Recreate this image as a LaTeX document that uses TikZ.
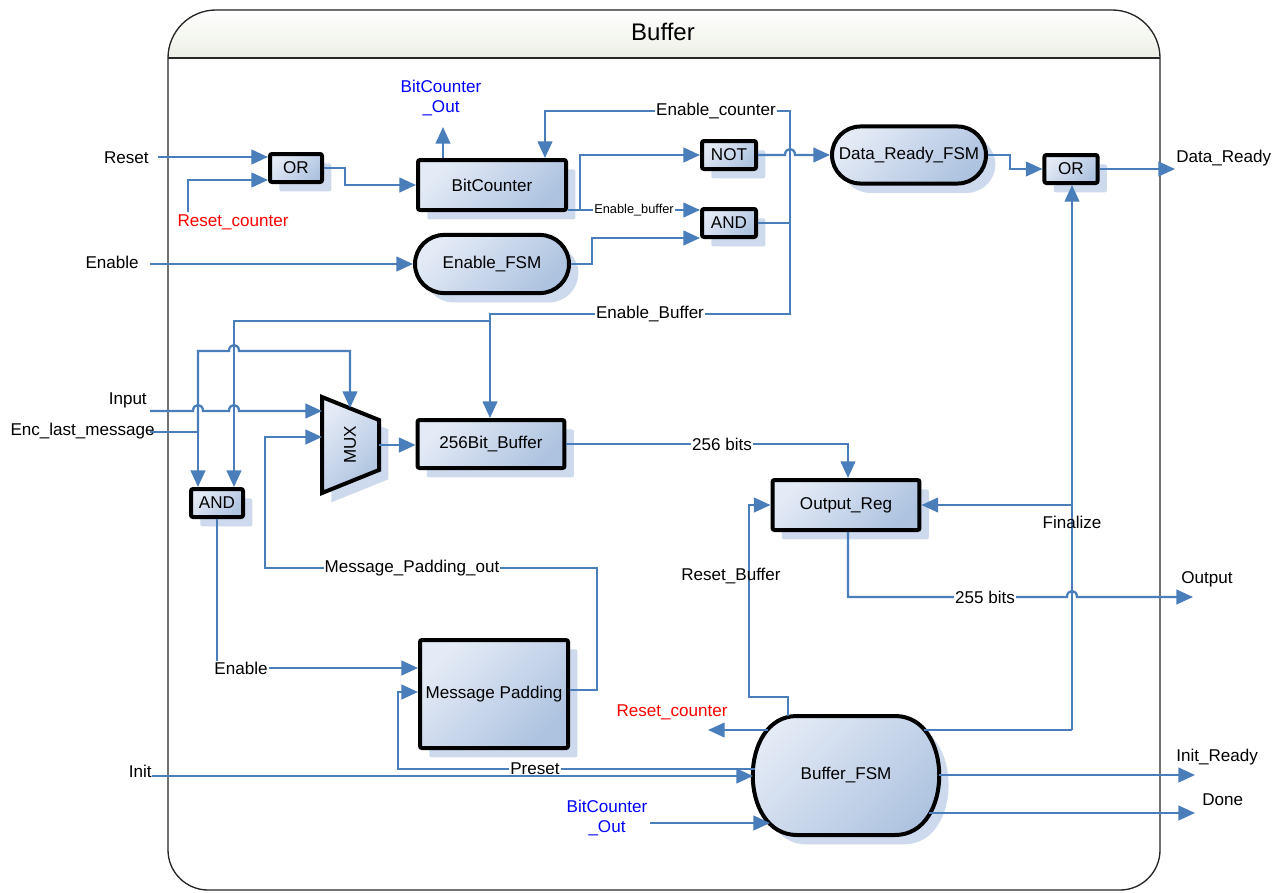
\documentclass[tikz,border=0pt]{standalone}
\usepackage{fontspec}
\setmainfont{Liberation Sans}
\usetikzlibrary{arrows.meta,shadows}

\definecolor{wirecol}{RGB}{74,126,187}
\definecolor{fillA}{RGB}{228,235,246}
\definecolor{fillB}{RGB}{174,195,224}
\definecolor{shcol}{RGB}{205,218,238}
\definecolor{hdrcol}{RGB}{236,239,229}
\definecolor{sigblue}{RGB}{0,0,255}
\definecolor{sigred}{RGB}{255,0,0}

\newcommand\lblfont{\fontsize{12.8}{15}\selectfont}
\newcommand\smallfont{\fontsize{9.6}{11}\selectfont}
\newcommand\titlefont{\fontsize{18}{20}\selectfont}

\tikzset{
  wire/.style={draw=wirecol, line width=1.7pt},
  arr/.style={wire, -{Triangle[length=12.5pt,width=11pt]}},
  shapebody/.style={draw=black, line width=3pt, top color=fillA, bottom color=fillB, shading angle=45,
    drop shadow={shadow xshift=7pt, shadow yshift=-7pt, fill=shcol, opacity=1}},
  blk/.style={shapebody, rounded corners=1.5pt, inner sep=0pt, font=\lblfont},
  pill/.style={blk, rounded corners=#1},
  lab/.style={fill=white, inner sep=0.8pt, font=\lblfont},
  txt/.style={inner sep=0pt, font=\lblfont},
}

\begin{document}
\begin{tikzpicture}[x=0.75pt,y=-0.75pt]
\useasboundingbox (0,0) rectangle (1287,892);

% ---- container with title band ----
\fill[top color=white, bottom color=hdrcol] (168,58) .. controls (168,31.5) and (189.5,10) .. (216,10)
  -- (1112,10) .. controls (1138.5,10) and (1160,31.5) .. (1160,58) -- cycle;
\draw[line width=1pt, black!85] (168,58) .. controls (168,31.5) and (189.5,10) .. (216,10)
  -- (1112,10) .. controls (1138.5,10) and (1160,31.5) .. (1160,58)
  -- (1160,850) .. controls (1160,872) and (1142,890) .. (1120,890)
  -- (208,890) .. controls (186,890) and (168,872) .. (168,850) -- cycle;
\draw[line width=1pt, black!85] (168,58) -- (1160,58);
\node[inner sep=0pt, font=\titlefont] (title) at (663,32) {Buffer};

% ---- blocks ----
\node[blk, minimum width=39pt, minimum height=21pt] (or1) at (296,168) {OR};
\node[blk, minimum width=111pt, minimum height=37.5pt] (bitc) at (492,185) {BitCounter};
\node[blk, minimum width=40.5pt, minimum height=21pt] (notg) at (729,155) {NOT};
\node[blk, minimum width=40.5pt, minimum height=21pt] (andt) at (729,223) {AND};
\node[pill=21.8pt, minimum width=115.5pt, minimum height=43.6pt] (enfsm) at (492,264) {Enable\_FSM};
\node[pill=21.4pt, minimum width=115.5pt, minimum height=42.8pt] (drfsm) at (909,155) {Data\_Ready\_FSM};
\node[blk, minimum width=39.8pt, minimum height=21pt] (or2) at (1071,169) {OR};
\node[blk, minimum width=110.2pt, minimum height=36pt] (buf) at (491,444) {256Bit\_Buffer};
\node[blk, minimum width=39pt, minimum height=21pt] (andl) at (217,503) {AND};
\node[blk, minimum width=110.2pt, minimum height=37.5pt] (oreg) at (846,505) {Output\_Reg};
\node[blk, minimum width=111pt, minimum height=81pt] (mpad) at (494,694) {Message Padding};

% multiplexer
\path[shapebody] (322,397) -- (379,420) -- (379,470) -- (322,493) -- cycle;
\node[txt, rotate=90] (mux) at (350,445) {MUX};

% Buffer_FSM body
\path[shapebody] (797,716) -- (895,716) .. controls (954,716) and (954,835) .. (895,835)
  -- (797,835) .. controls (738,835) and (738,716) .. (797,716) -- cycle;
\node[txt, minimum width=138.75pt, minimum height=89.25pt] (bfsm) at (846,775) {Buffer\_FSM};

% ---- ports and bends ----
\coordinate (pReset) at (158,157);
\coordinate (pRc) at (188,212);
\coordinate (kA) at (345,176);
\coordinate (pBco) at (443,127);
\coordinate (pEn) at (150,264);
\coordinate (kC) at (580,210);
\coordinate (kD) at (592,238);
\coordinate (kB) at (790,223);
\coordinate (kEc) at (545,111);
\coordinate (kEb) at (490,314);
\coordinate (kE) at (490,321);
\coordinate (kF) at (1010,162);
\coordinate (pDr) at (1175,169);
\coordinate (pIn) at (150,411);
\coordinate (muxL) at (322,445);
\coordinate (muxR) at (379,445);
\coordinate (muxT) at (350,408);
\coordinate (pEnc) at (150,432);
\coordinate (kG) at (198,432);
\coordinate (kH) at (597,568);
\coordinate (kI) at (265,437);
\coordinate (kJ) at (848,444);
\coordinate (pOut) at (1193,597);
\coordinate (bResB) at (788,716);
\coordinate (bRc) at (768,730);
\coordinate (bPre) at (755,769);
\coordinate (bInit) at (753,776);
\coordinate (bBco) at (770,823);
\coordinate (bFin) at (924,730);
\coordinate (bIr) at (939,775);
\coordinate (bDone) at (929,813);
\coordinate (kK) at (749,697);
\coordinate (pRc2) at (708,730);
\coordinate (kL) at (398,692);
\coordinate (kM) at (1072,730);
\coordinate (kN) at (1072,505);
\coordinate (pIr) at (1195,775);
\coordinate (pDone) at (1195,813);
\coordinate (pBco2) at (650,823);
\coordinate (pInit) at (152,776);

% ---- connectors ----
\draw[arr] (pReset) -- (pReset -| or1.west);
\draw[arr] (pRc) |- ([yshift=-9pt]or1.west);
\draw[arr] (or1.east) -| (kA) |- (bitc.west);
\draw[arr] (pBco |- bitc.north) -- (pBco);
\draw[arr] (pEn) -- (pEn -| enfsm.west);

\draw[wire] (kC -| bitc.east) -- (kC);
\draw[arr] (kC) |- (notg.west);
\draw[arr] (kC) -- (kC -| andt.west);
\draw[arr] (enfsm.east) -| (kD) -- (kD -| andt.west);

\draw[wire] (andt.east) -- (kB);
\draw[arr] (kB) |- (kEc) -- (kEc |- bitc.north);
\draw[arr] (kB) |- (kEb) -- (kEb |- buf.north);
\draw[arr] (kE) -| ([xshift=12.75pt]andl.north);

\draw[arr] (notg.east) -- (785,155) .. controls (785,147) and (795,147) .. (795,155) -- (drfsm.west);
\draw[arr] (drfsm.east) -| (kF) |- (or2.west);
\draw[arr] (or2.east) -- (pDr);

\draw[arr] (pIn) -- (193,411) .. controls (193,403) and (203,403) .. (203,411)
  -- (229,411) .. controls (229,403) and (239,403) .. (239,411) -- (pIn -| muxL);
\draw[wire] (pEnc) -- (kG);
\draw[arr] (kG) -- (kG |- andl.north);
\draw[arr] (kG) -- (198,351) -- (229,351) .. controls (229,343) and (239,343) .. (239,351) -| (muxT);

\draw[arr] ([yshift=3pt]mpad.east) -| (kH) -- (kH -| kI) -- (kI) -- (kI -| muxL);
\draw[arr] (muxR) -- (muxR -| buf.west);
\draw[arr] (buf.east) -- (kJ) -- (kJ |- oreg.north);
\draw[arr] (andl.south) |- ([yshift=19.5pt]mpad.west);
\draw[arr] ([xshift=1.5pt]oreg.south) |- (1067,597) .. controls (1067,589) and (1077,589) .. (1077,597) -- (pOut);

\draw[arr] (bResB) -- (bResB |- kK) -- (kK) |- (oreg.west);
\draw[arr] (bRc) -- (pRc2);
\draw[arr] (bPre) -- (bPre -| kL) -- (kL) -- (kL -| mpad.west);
\draw[wire] (bFin) -- (kM);
\draw[arr] (kM) -- (kM |- or2.south);
\draw[arr] (kN) -- (oreg.east);
\draw[arr] (bIr) -- (pIr);
\draw[arr] (bDone) -- (pDone);
\draw[arr] (pBco2) -- (bBco);

% ---- connector labels ----
\node[lab] (lEc) at (716,111) {Enable\_counter};
\node[lab, font=\smallfont] (lEb) at (634,210) {Enable\_buffer};
\node[lab] (lEB) at (650,314) {Enable\_Buffer};
\node[lab] (l256) at (722,444) {256 bits};
\node[lab] (lMpo) at (412,568) {Message\_Padding\_out};
\node[lab] (lEn) at (241,668) {Enable};
\node[lab] (l255) at (985,597) {255 bits};
\node[lab] (lPre) at (535,769) {Preset};
\node[txt] (lRb) at (731,576) {Reset\_Buffer};
\node[txt] (lFin) at (1072,522) {Finalize};

\draw[arr] (pInit) -- (bInit);

% ---- signal names ----
\node[txt, anchor=east] (tReset) at (149,158) {Reset};
\node[txt, text=sigred] (tRc) at (233,222) {Reset\_counter};
\node[txt, anchor=east] (tEn) at (139,262) {Enable};
\node[txt, align=center, text=sigblue] (tBco) at (441,98) {BitCounter\\\_Out};
\node[txt, anchor=west] (tDr) at (1176,158) {Data\_Ready};
\node[txt, anchor=east] (tIn) at (147,400) {Input};
\node[txt, anchor=east] (tEnc) at (155,431) {Enc\_last\_message};
\node[txt, anchor=west] (tOut) at (1181,579) {Output};
\node[txt, text=sigred] (tRc2) at (672,712) {Reset\_counter};
\node[txt, anchor=east] (tInit) at (152,771) {Init};
\node[txt, align=center, text=sigblue] (tBco2) at (607,818) {BitCounter\\\_Out};
\node[txt, anchor=west] (tIr) at (1176,757) {Init\_Ready};
\node[txt, anchor=west] (tDone) at (1202,800) {Done};
\end{tikzpicture}
\end{document}
